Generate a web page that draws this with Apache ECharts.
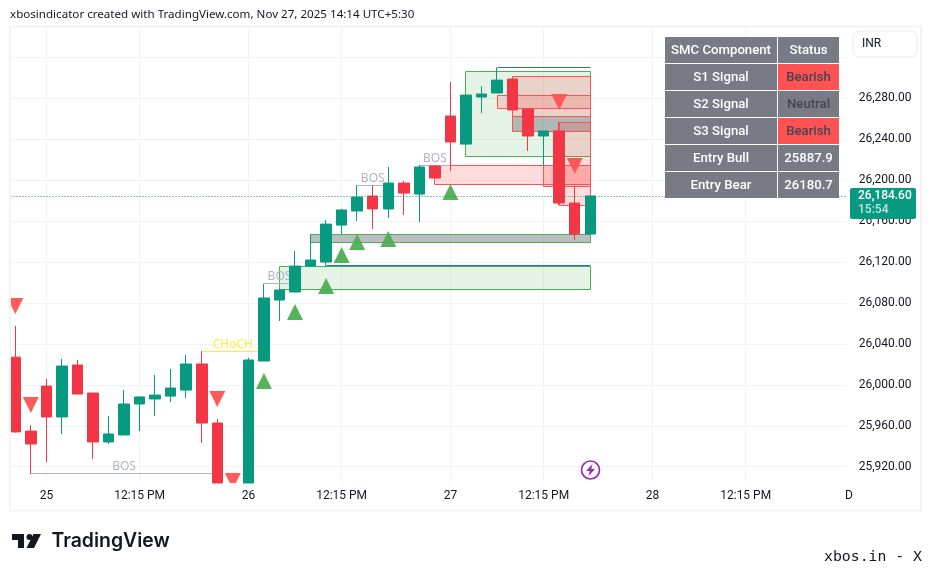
<!DOCTYPE html>
<html>
<head>
<meta charset="utf-8">
<style>
  html, body { margin: 0; padding: 0; background: #fff; }
  #chart { width: 931px; height: 571px; }
</style>
<script src="https://cdn.jsdelivr.net/npm/echarts@6/dist/echarts.min.js"></script>
</head>
<body>
<div id="chart"></div>
<script>
const categories = [
  '', '', '25', '', '', '', '', '', '12:15 PM', '', '', '', '', '', '', '26', '', '', '',
  '', '', '12:15 PM', '', '', '', '', '', '', '27', '', '', '', '', '', '12:15 PM', '', '', '',
  '', '', '', '28', '', '', '', '', '', '12:15 PM', '', '', '', '', '', ''
];

// bars 13 to 15 run off the bottom of the picture, so they stop at the axis there
const opens = [26027.1, 25954.8, 25998.8, 25968.6, 26019.4, 25992, 25944.2, 25951, 25981.3, 25986.2, 25989, 25994.9, 26020.4, 25962.7, null, 25904.1, 26023.3, 26082.9, 26090.7, 26116.1, 26120, 26156.1, 26169.9, 26184.5, 26171.9, 26197.2, 26186.4, 26213.9, 26262.7, 26235.3, 26281.3, 26285.2, 26298.8, 26269.5, 26243.2, 26248.1, 26177.7, 26147.4];
const closes = [25954, 25942.2, 25968.6, 26018.4, 25991, 25944.2, 25952, 25981.3, 25988.2, 25990, 25996.9, 26020.4, 25962.7, 25904.1, null, 26024.3, 26084.9, 26092.7, 26116.1, 26122, 26157.1, 26170.9, 26183.5, 26171.9, 26197.2, 26187.4, 26212.9, 26202.1, 26237.3, 26283.2, 26284.2, 26297.8, 26268.6, 26243.2, 26248.1, 26177.7, 26147.4, 26184.6];
const lows = [25953.3, 25912.9, 25924.6, 25952, 25991, 25927.5, 25942.2, 25951, 25954.8, 25969.6, 25983.2, 25987.2, 25943.2, 25904.1, null, 25904.1, 26023.3, 26062.4, 26090.7, 26116.1, 26116.4, 26147.1, 26160.1, 26152.3, 26163, 26166, 26159.1, 26202.1, 26209.3, 26235.3, 26265.6, 26285.2, 26268.6, 26228.5, 26214.6, 26175.8, 26141.5, 26147.4];
const highs = [26057.5, 25960.7, 26005.7, 26025.3, 26024.3, 25992, 25969.6, 25994.9, 25988.2, 26009.6, 26015.5, 26029.2, 26033, 25966.6, null, 26026.3, 26098.6, 26094.3, 26130.8, 26147.1, 26161.1, 26172.1, 26195.3, 26194.3, 26212.9, 26199.2, 26214.9, 26213.9, 26295.9, 26283.2, 26292, 26310.3, 26299.7, 26269.5, 26248.1, 26256.9, 26193.6, 26184.6];

// [bar index, price]
const bullSignals = [[16, 26003.7], [18, 26071.1], [20, 26096.6], [21, 26126.9], [22, 26139.5], [24, 26142.5], [28, 26188.4]];
const bearSignals = [[0, 26077], [1, 25980.3], [13, 25986.2], [14, 25906], [35, 26276.4], [36, 26213.9]];

// [from bar, to bar, top, bottom]
const bullZones = [[17, 37, 26116.1, 26093.4], [29, 37, 26306.4, 26223.3]];
const bullGreyZones = [[19, 37, 26147.1, 26139.2]];
const bearGreyZones = [[32, 37, 26262, 26247.8]];
const bearZones = [[27, 37, 26213.9, 26196], [32, 37, 26301.5, 26262], [31, 37, 26283, 26270.2], [35, 37, 26256.5, 26175.5], [34, 37, 26214.6, 26194]];

// [from bar, to bar, price]
const bosLines = [[1, 13, 25912.9], [16, 18, 26098.6], [22, 24, 26195.3], [26, 28, 26214.4]];
const chochLines = [[12, 16, 26033]];
const blueLines = [[20, 37, 26116.4], [31, 37, 26310.3]];

const priceTicks = [25920, 25960, 26000, 26040, 26080, 26120, 26160, 26200, 26240, 26280, 26320];
const priceLabels = [25920, 25960, 26000, 26040, 26080, 26120, 26160, 26200, 26240, 26280];
const lastPrice = 26184.6;

const tableRows = [
  ['SMC Component', 'Status'],
  ['S1 Signal', 'Bearish'],
  ['S2 Signal', 'Neutral'],
  ['S3 Signal', 'Bearish'],
  ['Entry Bull', '25887.9'],
  ['Entry Bear', '26180.7']
];

const FONT = 'Roboto, sans-serif';
const UP = '#089981', DOWN = '#f23645';

function snap(v) {
  return Math.round(v - 0.5) + 0.5;
}

function zoneSeries(data, fill, stroke) {
  return {
    type: 'custom',
    z: 1,
    silent: true,
    clip: true,
    data: data,
    encode: {x: [0, 1], y: [2, 3]},
    renderItem: function (params, api) {
      const a = api.coord([api.value(0), api.value(2)]);
      const b = api.coord([api.value(1), api.value(3)]);
      const x = snap(a[0]), y = snap(a[1]);
      return {
        type: 'rect',
        shape: {x: x, y: y, width: snap(b[0]) - x, height: snap(b[1]) - y},
        style: {fill: fill, stroke: stroke, lineWidth: 1}
      };
    }
  };
}

function lineSeries(data, color, label) {
  return {
    type: 'custom',
    z: 2,
    silent: true,
    clip: true,
    data: data,
    encode: {x: [0, 1], y: 2},
    renderItem: function (params, api) {
      const a = api.coord([api.value(0), api.value(2)]);
      const b = api.coord([api.value(1), api.value(2)]);
      const y = snap(a[1]);
      const children = [{
        type: 'line',
        shape: {x1: snap(a[0]), y1: y, x2: snap(b[0]), y2: y},
        style: {stroke: color, lineWidth: 1}
      }];
      if (label) {
        children.push({
          type: 'text',
          style: {
            x: (a[0] + b[0]) / 2, y: y - 7, text: label, fill: color,
            font: '12px "Noto Sans", sans-serif', align: 'center', verticalAlign: 'middle'
          }
        });
      }
      return {type: 'group', children: children};
    }
  };
}

// custom series, so the triangles get cut at the plot edge like the bars
function signalSeries(data, color, up) {
  return {
    type: 'custom',
    z: 4,
    silent: true,
    clip: true,
    data: data,
    encode: {x: 0, y: 1},
    renderItem: function (params, api) {
      const c = api.coord([api.value(0), api.value(1)]);
      const tip = up ? -8 : 8;
      return {
        type: 'polygon',
        shape: {points: [[c[0], c[1] + tip], [c[0] + 8, c[1] - tip], [c[0] - 8, c[1] - tip]]},
        style: {fill: color, opacity: 0.95}
      };
    }
  };
}

// table on the right of the chart
function tableGraphics() {
  const out = [];
  const colX = [665, 778], colW = [112, 61];
  const rowY = [37, 64, 91, 118, 145, 172], rowH = [26, 26, 26, 26, 26, 26];
  tableRows.forEach(function (row, r) {
    row.forEach(function (cell, c) {
      const bear = cell === 'Bearish', neutral = cell === 'Neutral';
      out.push({
        type: 'rect', z: 20,
        shape: {x: colX[c], y: rowY[r], width: colW[c], height: rowH[r]},
        style: {fill: bear ? '#ff5252' : '#787b86'}
      });
      out.push({
        type: 'text', z: 21,
        x: colX[c] + colW[c] / 2, y: rowY[r] + rowH[r] / 2 + 1,
        style: {
          text: cell, fill: bear || neutral ? '#434651' : '#ffffff',
          font: '500 13.2px ' + FONT, align: 'center', verticalAlign: 'middle'
        }
      });
    });
  });
  return out;
}

const chart = echarts.init(document.getElementById('chart'), null, {renderer: 'canvas'});

chart.setOption({
  animation: false,
  backgroundColor: '#ffffff',
  title: {
    text: 'xbosindicator created with TradingView.com, Nov 27, 2025 14:14 UTC+5:30',
    left: 5, top: 4,
    textStyle: {fontFamily: '"Noto Sans", sans-serif', fontSize: 11.6, fontWeight: 'normal', color: '#131722'}
  },
  grid: {left: 7.53, right: 84.3, top: 27, bottom: 88},
  xAxis: {
    type: 'category',
    data: categories,
    boundaryGap: true,
    axisLine: {show: false},
    axisTick: {show: false},
    axisLabel: {
      interval: function (i, v) { return v !== ''; },
      color: '#131722', fontFamily: FONT, fontSize: 12, margin: 7, hideOverlap: false
    },
    splitLine: {
      show: true,
      alignWithLabel: true,
      interval: function (i, v) { return v !== ''; },
      lineStyle: {color: '#f2f3f5', width: 1}
    }
  },
  yAxis: {
    type: 'value',
    position: 'right',
    min: 25904.1,
    max: 26349.7,
    scale: true,
    axisLine: {show: false},
    axisTick: {show: false, customValues: priceTicks},
    axisLabel: {
      customValues: priceLabels,
      margin: 12,
      color: '#131722', fontFamily: FONT, fontSize: 12,
      formatter: function (v) {
        return v.toLocaleString('en-US', {minimumFractionDigits: 2, maximumFractionDigits: 2});
      }
    },
    splitLine: {show: true, lineStyle: {color: '#f2f3f5', width: 1}}
  },
  series: [
    zoneSeries(bullZones, 'rgba(76,175,80,0.15)', '#4caf50'),
    zoneSeries(bullGreyZones, 'rgba(120,123,134,0.5)', '#4caf50'),
    zoneSeries(bearGreyZones, 'rgba(120,123,134,0.5)', '#ff5252'),
    zoneSeries(bearZones, 'rgba(255,82,82,0.2)', '#ff5252'),
    lineSeries(blueLines, '#2962ff'),
    lineSeries(bosLines, '#b2b5be', 'BOS'),
    lineSeries(chochLines, '#ffeb3b', 'CHoCH'),
    {
      type: 'candlestick',
      z: 3,
      silent: true,
      barWidth: 11,
      clip: true,
      data: opens.map(function (o, i) { return [o, closes[i], lows[i], highs[i]]; }),
      itemStyle: {color: UP, color0: DOWN, borderColor: UP, borderColor0: DOWN, borderWidth: 1},
      markLine: {
        silent: true,
        symbol: 'none',
        label: {show: false},
        lineStyle: {color: UP, type: [1, 2], width: 1},
        data: [{yAxis: lastPrice}]
      }
    },
    signalSeries(bullSignals, '#4caf50', true),
    signalSeries(bearSignals, '#ff5252', false)
  ]
});

const priceY = chart.convertToPixel({yAxisIndex: 0}, lastPrice);

chart.setOption({
  graphic: [
    // trims the grid to the frame on the left
    {type: 'rect', z: 10, shape: {x: 5, y: 27, width: 5, height: 456}, style: {fill: '#ffffff'}},
    {type: 'rect', z: 10, shape: {x: 10, y: 26.5, width: 911, height: 484}, style: {fill: 'none', stroke: '#f2f3f5', lineWidth: 2}},
    {type: 'text', z: 11, x: 845, y: 496, style: {text: 'D', fill: '#131722', font: '12px ' + FONT, verticalAlign: 'middle'}},

    // currency box
    {type: 'rect', z: 20, shape: {x: 853, y: 31, width: 64, height: 26, r: 6}, style: {fill: '#ffffff', stroke: '#e9ebf0', lineWidth: 1}},
    {type: 'text', z: 21, x: 862, y: 44, style: {text: 'INR', fill: '#131722', font: '12px ' + FONT, verticalAlign: 'middle'}},

    // last price tag
    {type: 'rect', z: 20, shape: {x: 850, y: priceY - 8, width: 66, height: 31, r: 2}, style: {fill: UP}},
    {type: 'text', z: 21, x: 858, y: priceY, style: {text: '26,184.60', fill: '#ffffff', font: '500 12px ' + FONT, verticalAlign: 'middle'}},
    {type: 'text', z: 21, x: 858, y: priceY + 14, style: {text: '15:54', fill: 'rgba(255,255,255,0.75)', font: '500 12px ' + FONT, verticalAlign: 'middle'}},

    // lightning marker
    {type: 'circle', z: 20, shape: {cx: 590.5, cy: 470, r: 9}, style: {fill: '#ffffff', stroke: '#9c27b0', lineWidth: 1.7}},
    {type: 'polygon', z: 21, shape: {points: [[592.5, 464], [586, 471], [589.7, 471], [588.5, 476], [595, 469], [591.3, 469]]}, style: {fill: '#9c27b0'}},

    // footer
    {type: 'polygon', z: 20, shape: {points: [[12, 534], [24, 534], [24, 548], [18, 548], [18, 540], [12, 540]]}, style: {fill: '#131722'}},
    {type: 'circle', z: 20, shape: {cx: 29.5, cy: 537, r: 3}, style: {fill: '#131722'}},
    {type: 'polygon', z: 20, shape: {points: [[33.5, 534], [41, 534], [34, 548], [26.5, 548]]}, style: {fill: '#131722'}},
    {type: 'text', z: 20, x: 51.5, y: 541, style: {text: 'TradingView', fill: '#131722', font: '600 19.4px Inter, sans-serif', verticalAlign: 'middle'}},
    {type: 'text', z: 20, x: 922, y: 557, style: {text: 'xbos.in - X', fill: '#131722', font: '14.8px "DejaVu Sans Mono", monospace', align: 'right', verticalAlign: 'middle'}}
  ].concat(tableGraphics())
});
</script>
</body>
</html>
